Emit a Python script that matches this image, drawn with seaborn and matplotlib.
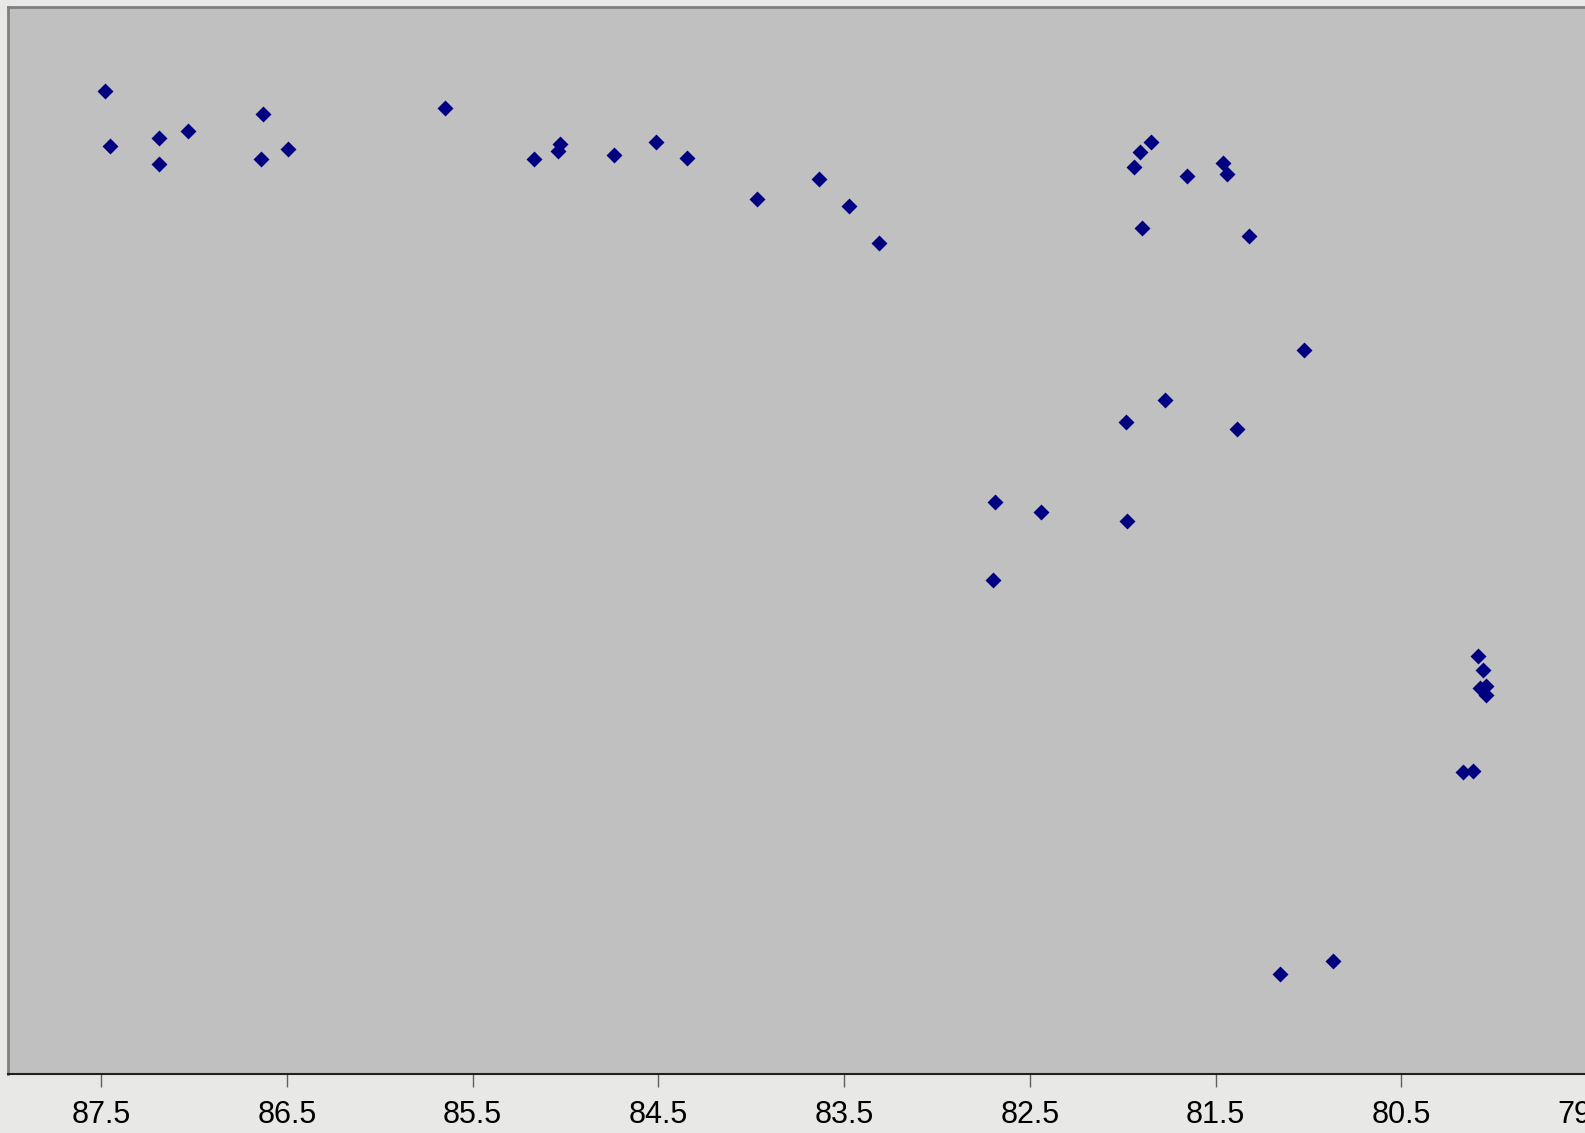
import matplotlib
matplotlib.use("Agg")
import matplotlib.pyplot as plt
import seaborn as sns
import pandas as pd

# Longitude (degrees W) and latitude of each station
longitude = [87.482, 87.450, 87.186, 87.188, 87.030, 86.629, 86.640, 86.496,
             85.648, 85.172, 85.043, 85.027, 84.741, 84.515, 84.348, 83.970,
             83.633, 83.475, 83.311, 81.848, 81.907, 81.940, 81.654, 81.460,
             81.439, 81.897, 81.320, 81.024, 81.770, 81.983, 81.384, 82.685,
             82.440, 81.977, 82.696, 80.086, 80.059, 80.075, 80.043, 80.043,
             80.167, 80.113, 81.153, 80.867]
latitude = [30.679, 30.306, 30.360, 30.183, 30.407, 30.525, 30.219, 30.287,
            30.562, 30.217, 30.272, 30.319, 30.244, 30.333, 30.224, 29.945,
            30.082, 29.896, 29.649, 30.333, 30.265, 30.163, 30.102, 30.190,
            30.115, 29.748, 29.694, 28.921, 28.578, 28.427, 28.385, 27.884,
            27.822, 27.760, 27.355, 26.840, 26.745, 26.623, 26.636, 26.575,
            26.052, 26.059, 24.679, 24.768]
x_ticks = [87.5, 86.5, 85.5, 84.5, 83.5, 82.5, 81.5, 80.5, 79.5]
x_tick_labels = ["87.5", "86.5", "85.5", "84.5", "83.5", "82.5", "81.5", "80.5", "79.5"]

df = pd.DataFrame({"lon": longitude, "lat": latitude})

sns.set_style("white")
plt.rcParams["font.family"] = ["Liberation Sans", "DejaVu Sans"]

W, H = 1585, 1133
fig = plt.figure(figsize=(W / 100, H / 100), dpi=100)
fig.patch.set_facecolor("#E8E8E6")

left_px, top_px, bottom_px, right_px = 8.3, 7.0, 1074.0, 1587.0
ax = fig.add_axes([left_px / W, (H - bottom_px) / H,
                   (right_px - left_px) / W, (bottom_px - top_px) / H])
ax.set_facecolor("#C0C0C0")

sns.scatterplot(data=df, x="lon", y="lat", marker="D", s=66, color="#000080",
                linewidth=0, ax=ax, clip_on=False)

ax.set_xlim(88.0, 79.5)
ax.set_ylim(24.0, 31.25)
ax.set_xticks(x_ticks)
ax.set_xticklabels(x_tick_labels, fontsize=22, color="black")
ax.set_yticks([])
ax.set_xlabel("")
ax.set_ylabel("")

ax.tick_params(axis="x", direction="out", length=9, width=1, color="#606060",
               pad=10, bottom=True)

for side in ["left", "top"]:
    ax.spines[side].set_color("#808080")
    ax.spines[side].set_linewidth(2.0)
ax.spines["bottom"].set_color("#202020")
ax.spines["bottom"].set_linewidth(1.5)
ax.spines["right"].set_visible(False)

fig.savefig("out.png", dpi=100, facecolor=fig.get_facecolor())
